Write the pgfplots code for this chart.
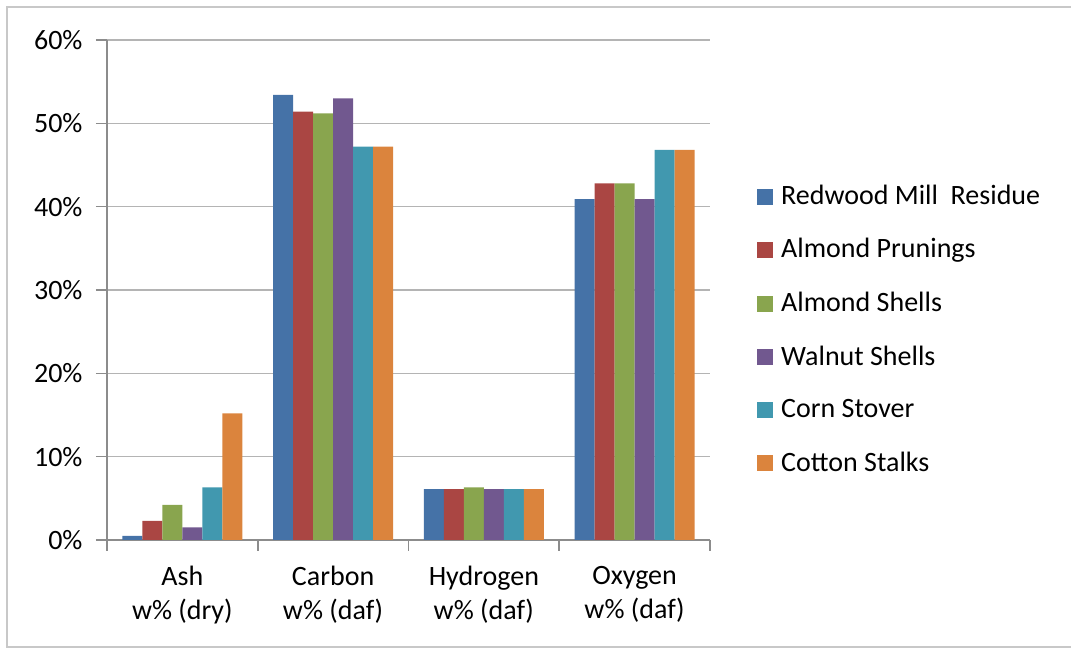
\documentclass[border=0pt]{standalone}
\usepackage{pgfplots}
\pgfplotsset{compat=1.18}
\usepackage{fontspec}
\setmainfont{Carlito}
\definecolor{cA}{RGB}{69,114,167}
\definecolor{cB}{RGB}{170,70,67}
\definecolor{cC}{RGB}{137,165,78}
\definecolor{cD}{RGB}{113,88,143}
\definecolor{cE}{RGB}{65,152,175}
\definecolor{cF}{RGB}{219,132,61}
\definecolor{gridc}{RGB}{180,180,180}
\definecolor{axisc}{RGB}{140,140,140}
\begin{document}
\begin{tikzpicture}
\fontsize{28}{34}\selectfont
\useasboundingbox (-107pt,-110pt) rectangle (964pt,540pt);
\draw[line width=1.6pt, color={rgb,255:red,200;green,200;blue,200}] (964pt,533pt) -- (-100pt,533pt) -- (-100pt,-107pt) -- (964pt,-107pt);
\begin{axis}[
  at={(0pt,0pt)}, anchor=south west,
  scale only axis, width=603pt, height=500pt,
  ybar=0pt, bar width=20pt,
  ymin=0, ymax=60,
  ytick={0,10,...,60},
  xmin=-0.5, xmax=3.5,
  xtick={-0.5,0.5,1.5,2.5,3.5},
  x tick label as interval,
  xticklabels={{Ash\\w\% (dry)},{Carbon\\w\% (daf)},{Hydrogen\\w\% (daf)},{Oxygen\\w\% (daf)}},
  xticklabel style={align=center, font=\fontsize{28}{34}\selectfont, text=black, yshift=-6pt},
  yticklabel={\pgfmathprintnumber{\tick}\%},
  yticklabel style={font=\fontsize{28}{34}\selectfont, text=black, xshift=-4pt},
  /pgf/number format/assume math mode=true,
  axis x line*=bottom, axis y line*=left,
  axis line style={draw=axisc, line width=1.6pt, -},
  tick align=outside,
  major tick length=11pt,
  tick style={draw=axisc, line width=1.6pt},
  ymajorgrids, grid style={draw=gridc, line width=1.6pt},
  legend style={draw=none, fill=none, at={(rel axis cs:1.078,0.42)}, anchor=west,
    font=\fontsize{28}{34}\selectfont, row sep=26pt, inner sep=0pt},
  legend cell align=left,
  legend image code/.code={\fill[#1] (0pt,-8pt) rectangle (16pt,8pt); \path (22pt,0pt);},
  clip=false,
]
\addplot[fill=cA, draw=none] coordinates {(0,0.5) (1,53.4) (2,6.1) (3,40.9)};
\addplot[fill=cB, draw=none] coordinates {(0,2.3) (1,51.4) (2,6.1) (3,42.8)};
\addplot[fill=cC, draw=none] coordinates {(0,4.2) (1,51.2) (2,6.3) (3,42.8)};
\addplot[fill=cD, draw=none] coordinates {(0,1.5) (1,53.0) (2,6.1) (3,40.9)};
\addplot[fill=cE, draw=none] coordinates {(0,6.3) (1,47.2) (2,6.1) (3,46.8)};
\addplot[fill=cF, draw=none] coordinates {(0,15.2) (1,47.2) (2,6.1) (3,46.8)};
\legend{Redwood Mill\ \ Residue, Almond Prunings, Almond Shells, Walnut Shells, Corn Stover, Cotton Stalks}
\end{axis}
\end{tikzpicture}
\end{document}
